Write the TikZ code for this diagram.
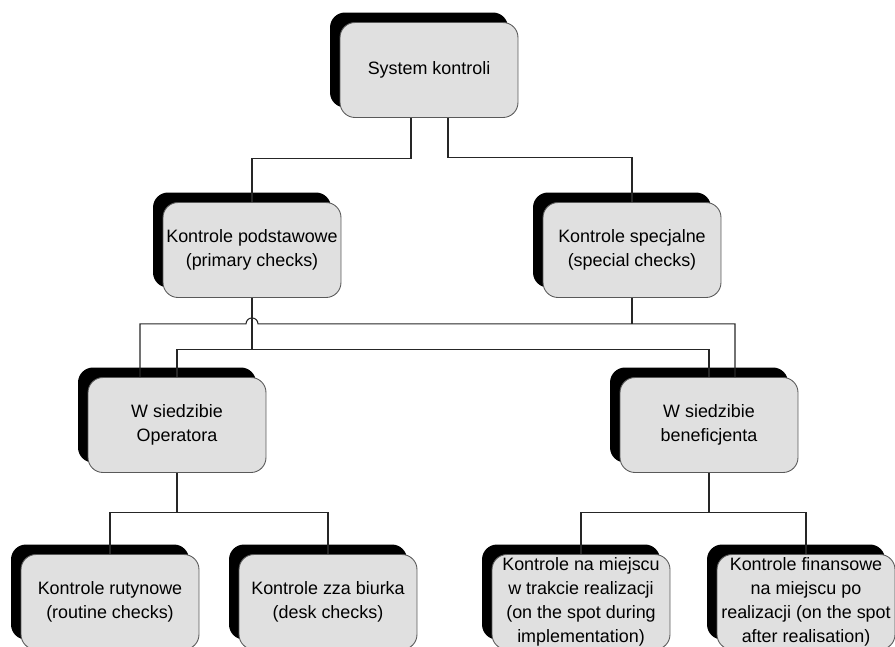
\documentclass[tikz,border=0pt]{standalone}
\usepackage{fontspec}
\setmainfont{Liberation Sans}
\usetikzlibrary{calc, shadows, positioning}

\begin{document}
\begin{tikzpicture}[x=0.02cm, y=-0.02cm,
    kasten/.style={rectangle, rounded corners=3mm, draw=black!65, line width=0.5pt,
                   fill=black!12, minimum width=3.56cm, minimum height=1.9cm,
                   align=center, inner sep=1pt, font=\fontsize{10.2}{13.7}\selectfont,
                   drop shadow={shadow xshift=-2mm, shadow yshift=2mm, fill=black, opacity=1}},
    linie/.style={draw=black!85, line width=0.6pt}]
  \useasboundingbox (0,0) rectangle (895,646);

  \node[kasten] (system) at (429,70) {System kontroli};
  \node[kasten] (podst) at (252,250) {Kontrole podstawowe\\(primary checks)};
  \node[kasten] (spec) at (632,250) {Kontrole specjalne\\(special checks)};
  \node[kasten] (oper) at (177,425) {W siedzibie\\Operatora};
  \node[kasten] (benef) at (709,425) {W siedzibie\\beneficjenta};
  \node[kasten] (rutyn) at (110,602) {Kontrole rutynowe\\(routine checks)};
  \node[kasten] (biurko) at (328,602) {Kontrole zza biurka\\(desk checks)};
  \node[kasten] (wtrakcie) at (581,602) {Kontrole na miejscu\\w trakcie realizacji\\(on the spot during\\implementation)};
  \node[kasten] (po) at (806,602) {Kontrole finansowe\\na miejscu po\\realizacji (on the spot\\after realisation)};

  \draw[linie] ($(system.south)+(-18,0)$) -- ++(0,41) -| (podst.north);
  \draw[linie] ($(system.south)+(19,0)$) -- ++(0,40) -| (spec.north);

  \draw[linie] (podst.south) -- ++(0,52) coordinate (podstknoten);
  \draw[linie] (oper.north) |- (podstknoten) -| (benef.north);

  \draw[linie] (spec.south) -- ++(0,26) coordinate (specknoten);
  \draw[linie] ($(oper.north)+(-37,0)$) |- ($(podst.south|-specknoten)+(-6,0)$)
               arc[start angle=180, end angle=0, radius=1.2mm]
               -| ($(benef.north)+(26,0)$);

  \draw[linie] (oper.south) -- ++(0,40) coordinate (operknoten);
  \draw[linie] (rutyn.north) |- (operknoten) -| (biurko.north);

  \draw[linie] (benef.south) -- ++(0,40) coordinate (benefknoten);
  \draw[linie] (wtrakcie.north) |- (benefknoten) -| (po.north);
\end{tikzpicture}
\end{document}
